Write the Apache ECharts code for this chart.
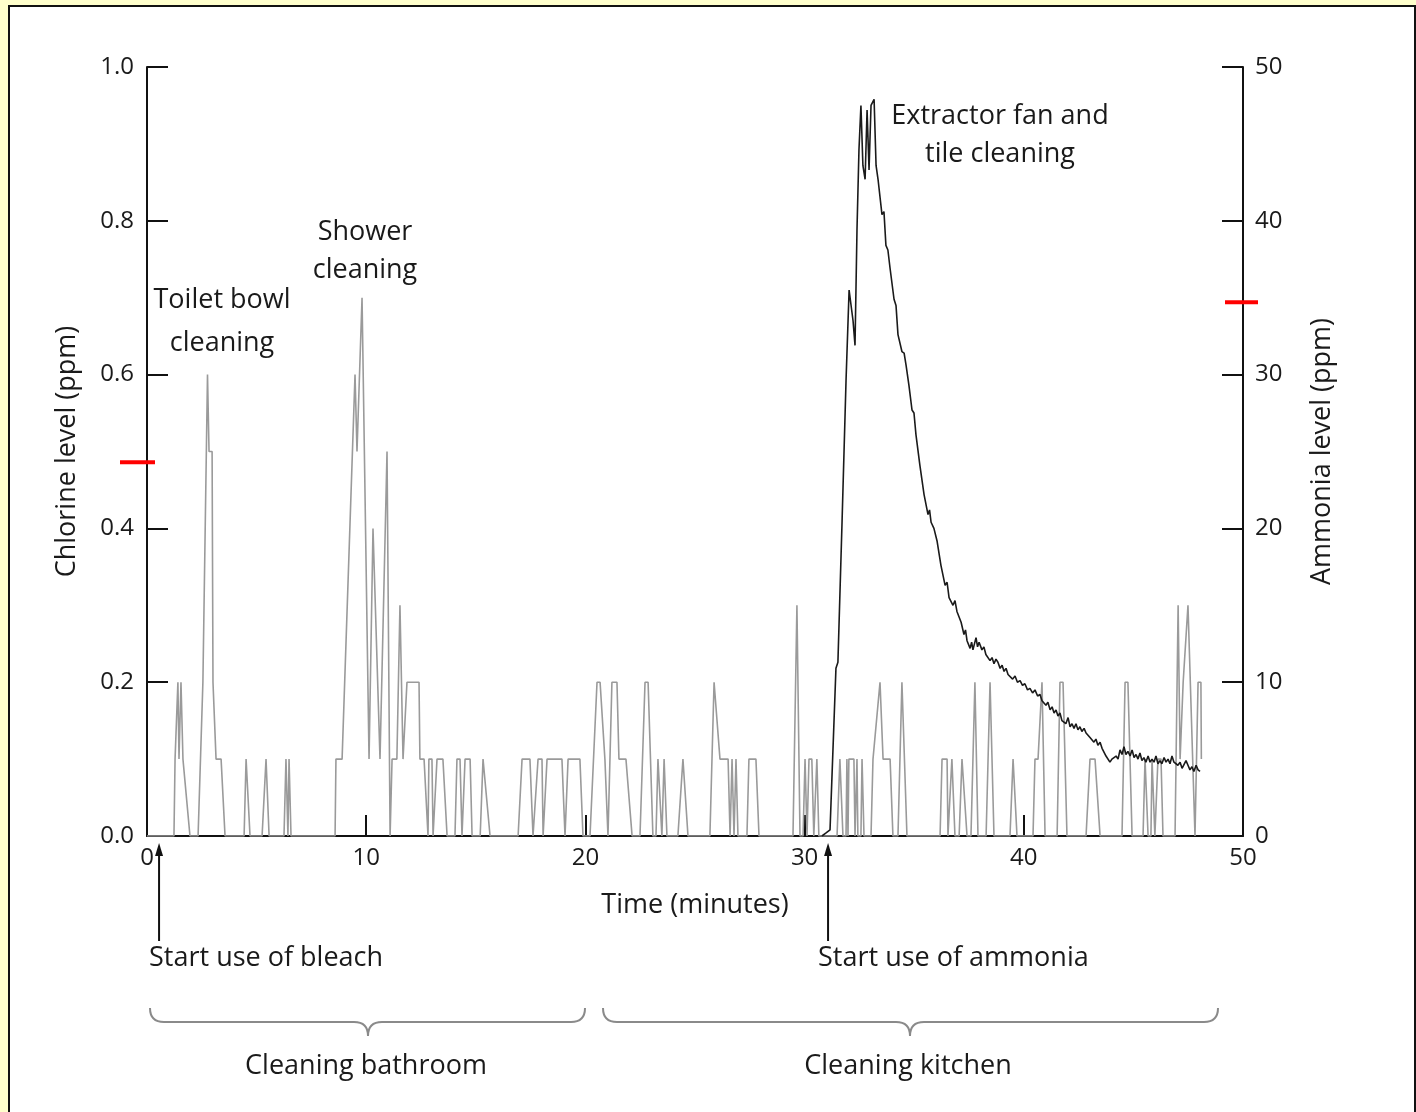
<!DOCTYPE html>
<html><head><meta charset="utf-8">
<script src="https://cdn.jsdelivr.net/npm/echarts@6/dist/echarts.min.js"></script>
<style>
html,body{margin:0;padding:0;background:#FFFFCC;width:1416px;height:1112px;overflow:hidden;}
#panel{position:absolute;left:8px;top:5px;width:1404px;height:1120px;background:#fff;border:2px solid #111;}
#chart{position:absolute;left:0;top:0;width:1416px;height:1112px;}
</style></head><body>
<div id="panel"></div><div id="chart"></div>
<script>
// ---- data (time in minutes, level in ppm) ----
const chlorine = [
[0,0],[1.23,0],[1.28,0.1],[1.41,0.2],[1.46,0.1],[1.55,0.2],[1.64,0.1],[1.96,0],
[2.33,0],[2.55,0.2],[2.76,0.6],[2.83,0.5],[2.97,0.5],[3.01,0.2],[3.15,0.1],[3.38,0.1],[3.56,0],
[4.43,0],[4.52,0.1],[4.70,0],
[5.25,0],[5.43,0.1],[5.57,0],
[6.25,0],[6.34,0.1],[6.43,0],[6.48,0.1],[6.57,0],
[8.58,0],[8.62,0.1],[8.90,0.1],[9.49,0.6],[9.58,0.5],[9.81,0.7],[10.13,0.1],[10.31,0.4],[10.63,0.1],[10.95,0.5],[11.09,0],[11.18,0.1],[11.40,0.1],[11.54,0.3],[11.63,0.3],[11.68,0.1],[11.86,0.2],[12.41,0.2],[12.45,0.1],[12.64,0.1],
[12.82,0],[12.86,0.1],[13.00,0.1],[13.05,0],[13.23,0.1],[13.50,0.1],[13.69,0],
[14.05,0],[14.14,0.1],[14.28,0.1],[14.37,0],[14.51,0.1],[14.74,0.1],[14.83,0],
[15.20,0],[15.33,0.1],[15.65,0],
[16.93,0],[17.11,0.1],[17.47,0.1],[17.61,0],[17.84,0.1],[18.02,0.1],[18.07,0],[18.25,0.1],[18.93,0.1],[19.07,0],[19.21,0.1],[19.75,0.1],[19.89,0],
[20.21,0],[20.53,0.2],[20.67,0.2],[20.89,0.1],[21.03,0],[21.21,0.2],[21.44,0.2],[21.53,0.1],[21.85,0.1],[22.13,0],
[22.49,0],[22.72,0.2],[22.86,0.2],[23.08,0],
[23.22,0],[23.31,0.1],[23.40,0.1],[23.49,0],[23.59,0.1],[23.72,0],
[24.22,0],[24.45,0.1],[24.68,0],
[25.68,0],[25.87,0.2],[26.14,0.1],[26.51,0.1],[26.60,0],[26.69,0.1],[26.78,0],[26.87,0.1],[26.96,0],
[27.37,0],[27.46,0.1],[27.78,0.1],[27.92,0],
[29.47,0],[29.65,0.3],[29.79,0],
[29.93,0],[30.02,0.1],[30.11,0],[30.20,0.1],[30.33,0.1],[30.42,0],[30.56,0.1],[30.65,0],
[31.48,0],[31.61,0.1],[31.75,0],[31.89,0],[31.93,0.1],[31.98,0],[32.02,0.1],[32.25,0.1],[32.30,0],[32.39,0.1],[32.43,0],
[32.57,0],[32.62,0.1],[32.71,0],
[33.03,0],[33.12,0.1],[33.44,0.2],[33.58,0.1],[33.90,0.1],[34.03,0],
[34.26,0],[34.44,0.2],[34.67,0],
[36.18,0],[36.27,0.1],[36.50,0.1],[36.54,0],[36.72,0.1],[36.86,0],[37.05,0],[37.18,0.1],[37.41,0],
[37.59,0],[37.77,0.2],[37.91,0],
[38.28,0],[38.46,0.2],[38.64,0],
[39.37,0],[39.51,0.1],[39.69,0],
[40.42,0],[40.51,0.1],[40.65,0.1],[40.83,0.2],[40.97,0],
[41.52,0],[41.65,0.2],[41.79,0.2],[41.97,0],
[42.84,0],[43.02,0.1],[43.25,0.1],[43.48,0],
[44.48,0],[44.62,0.2],[44.75,0.2],[44.94,0],
[45.44,0],[45.53,0.1],[45.67,0],[45.80,0],[45.85,0.1],[45.98,0],[46.07,0],[46.12,0.1],[46.26,0.1],[46.35,0],
[46.90,0],[47.04,0.3],[47.13,0.1],[47.27,0.2],[47.49,0.3],[47.81,0],[47.95,0.2],[48.08,0.2],[48.10,0.1]
];
const ammonia = [
[30.79,0],[30.98,0.2],[31.16,0.4],[31.43,10.9],[31.52,11.3],[31.71,20.5],[31.89,29.6],[32.03,35.5],[32.12,35.6],[32.21,33.5],[32.30,31.9],
[32.39,39.4],[32.48,44.6],[32.57,47.5],[32.66,43.6],[32.76,42.7],[32.85,47.2],[32.94,43.3],[33.03,47.5],[33.17,47.9],[33.26,43.6],[33.35,42.7],
[33.53,40.4],[33.62,40.6],[33.71,38.4],[33.80,38.1],[33.90,36.9],[34.08,34.9],[34.17,34.5],[34.26,32.6],[34.44,31.5],[34.54,31.4],[34.63,30.6],[34.76,29.3],[34.90,27.7],[34.99,27.5],[35.08,26.1],[35.26,24.1],
[35.45,22.2],[35.63,20.9],[35.70,21.2],[35.77,20.4],[35.90,20.0],[36.04,19.2],[36.22,17.6],[36.41,16.3],[36.50,16.5],[36.59,15.5],[36.77,15.0],[36.86,15.3],[36.95,14.6],[37.14,13.9],
[37.27,13.1],[37.34,13.4],[37.41,12.7],[37.55,12.2],[37.62,12.6],[37.68,12.1],[37.82,12.9],[37.89,12.3],[37.96,12.6],[38.09,12.1],[38.18,12.3],[38.27,11.8],[38.36,11.9],[38.46,11.4],[38.55,11.6],[38.64,11.2],[38.73,11.5],[38.82,11.3],
[38.92,10.9],[39.01,11.1],[39.10,10.7],[39.19,10.9],[39.28,10.5],[39.37,10.6],[39.49,10.2],[39.60,10.4],[39.71,10.0],[39.83,10.1],[39.94,9.8],[40.05,9.9],[40.17,9.5],[40.28,9.6],[40.40,9.3],[40.51,9.5],[40.63,9.1],[40.74,9.2],[40.83,8.8],[40.92,8.9],[41.01,8.5],[41.10,8.7],
[41.20,8.2],[41.29,8.4],[41.38,8.0],[41.47,8.2],[41.56,7.8],[41.65,8.0],[41.74,7.5],[41.83,7.6],[41.92,7.3],[42.02,7.7],[42.11,7.1],[42.20,7.3],[42.29,7.0],[42.38,7.3],[42.47,6.9],[42.56,7.1],[42.65,6.8],[42.75,7.0],[42.84,6.7],[42.93,6.8],[43.02,6.4],[43.11,6.5],
[43.20,6.1],[43.29,6.3],[43.38,5.9],[43.48,6.1],[43.57,5.7],[43.66,5.6],[43.75,5.2],[43.84,5.3],[43.93,4.8],[44.02,5.0],[44.11,4.9],[44.21,5.2],[44.30,5.0],[44.39,5.6],[44.48,5.3],[44.57,5.8],[44.66,5.3],[44.75,5.5],[44.85,5.2],[44.94,5.6],[45.03,5.1],[45.12,5.3],
[45.21,5.0],[45.30,5.4],[45.39,4.9],[45.48,5.1],[45.57,4.8],[45.67,5.2],[45.76,4.8],[45.85,5.0],[45.94,4.8],[46.03,5.2],[46.12,4.7],[46.21,4.9],[46.30,4.7],[46.40,5.1],[46.49,4.8],[46.58,5.0],[46.67,4.7],[46.76,5.2],[46.85,4.8],[46.93,4.9],[47.03,4.6],[47.13,4.8],
[47.22,4.4],[47.31,4.5],[47.40,4.9],[47.49,4.6],[47.58,4.3],[47.67,4.5],[47.76,4.2],[47.86,4.6],[47.95,4.3],[48.04,4.2]
];
const xTicks = [0, 10, 20, 30, 40, 50];
const chlorineTicks = [0.0, 0.2, 0.4, 0.6, 0.8, 1.0];
const ammoniaTicks = [0, 10, 20, 30, 40, 50];
const chlorineLimit = 0.486;   // red marker, left axis
const ammoniaLimit = 34.7;     // red marker, right axis
const events = [
  {t: 0.55, label: 'Start use of bleach'},
  {t: 31.07, label: 'Start use of ammonia'}
];
const notes = [
  {text: 'Toilet bowl\ncleaning', x: 222, y: 322, lh: 43},
  {text: 'Shower\ncleaning', x: 365, y: 251, lh: 38},
  {text: 'Extractor fan and\ntile cleaning', x: 1000, y: 135, lh: 38}
];
const phases = [
  {label: 'Cleaning bathroom', x1: 150, x2: 585, mid: 368},
  {label: 'Cleaning kitchen', x1: 603, x2: 1218, mid: 910}
];

const FONT = 'Open Sans';
const TXT = '#1a1a1a';
const chart = echarts.init(document.getElementById('chart'));
const axisCommon = {
  axisLine: {show: true, onZero: false, lineStyle: {color: '#111', width: 2}},
  axisTick: {show: true, inside: true, length: 21, lineStyle: {color: '#111', width: 2}},
  splitLine: {show: false},
  nameTextStyle: {fontFamily: FONT, fontSize: 27, color: TXT},
};
chart.setOption({
  backgroundColor: 'transparent',
  animation: false,
  grid: {left: 147, right: 173, top: 67, bottom: 276},
  xAxis: Object.assign({}, axisCommon, {
    type: 'value', min: xTicks[0], max: xTicks[xTicks.length - 1], interval: 10,
    name: 'Time (minutes)', nameLocation: 'middle', nameGap: 56,
    axisLabel: {margin: 10, fontFamily: FONT, fontSize: 24, color: TXT}
  }),
  yAxis: [
    Object.assign({}, axisCommon, {
      type: 'value', position: 'left', min: chlorineTicks[0], max: chlorineTicks[chlorineTicks.length - 1], interval: 0.2,
      name: 'Chlorine level (ppm)', nameLocation: 'middle', nameGap: 66, nameRotate: 90,
      axisLabel: {margin: 13, fontFamily: FONT, fontSize: 24, color: TXT, formatter: v => v.toFixed(1)}
    }),
    Object.assign({}, axisCommon, {
      type: 'value', position: 'right', min: ammoniaTicks[0], max: ammoniaTicks[ammoniaTicks.length - 1], interval: 10,
      name: 'Ammonia level (ppm)', nameLocation: 'middle', nameGap: 66, nameRotate: 90,
      axisLabel: {margin: 12, fontFamily: FONT, fontSize: 24, color: TXT}
    })
  ],
  series: [
    {type: 'line', name: 'Chlorine', yAxisIndex: 0, data: chlorine, symbol: 'none',
     lineStyle: {color: '#9a9a9a', width: 1.6}, z: 2},
    {type: 'line', name: 'Ammonia', yAxisIndex: 1, data: ammonia, symbol: 'none',
     lineStyle: {color: '#1a1a1a', width: 1.6}, z: 3}
  ]
});

const g = [];
// red limit markers
const cl = chart.convertToPixel({seriesIndex: 0}, [0, chlorineLimit]);
g.push({type: 'rect', shape: {x: cl[0] - 27, y: cl[1] - 2, width: 35, height: 4}, style: {fill: '#ff0000'}, z: 10});
const am = chart.convertToPixel({seriesIndex: 1}, [50, ammoniaLimit]);
g.push({type: 'rect', shape: {x: am[0] - 18, y: am[1] - 2, width: 33, height: 4}, style: {fill: '#ff0000'}, z: 10});
// arrows + labels
events.forEach(e => {
  const p = chart.convertToPixel({seriesIndex: 0}, [e.t, 0]);
  const tip = p[1] + 7;
  g.push({type: 'line', shape: {x1: p[0], y1: tip + 8, x2: p[0], y2: tip + 98}, style: {stroke: '#111', lineWidth: 2}});
  g.push({type: 'polygon', shape: {points: [[p[0], tip], [p[0] - 4, tip + 13], [p[0] + 4, tip + 13]]}, style: {fill: '#111'}});
  g.push({type: 'text', x: p[0] - 10, y: p[1] + 122, style: {text: e.label, fontFamily: FONT, fontSize: 27, fill: TXT, verticalAlign: 'middle', align: 'left'}});
});
// annotations
notes.forEach(n => {
  g.push({type: 'text', x: n.x, y: n.y, style: {text: n.text, fontFamily: FONT, fontSize: 27, lineHeight: n.lh, fill: TXT, align: 'center', verticalAlign: 'middle'}});
});
// braces
const BR = {stroke: '#8a8a8a', lineWidth: 2, fill: null};
phases.forEach(b => {
  const yT = 1008, yL = 1022, yB = 1036, r = 14;
  g.push({type: 'bezierCurve', shape: {x1: b.x1, y1: yT, x2: b.x1 + r, y2: yL, cpx1: b.x1, cpy1: yL}, style: BR});
  g.push({type: 'line', shape: {x1: b.x1 + r, y1: yL, x2: b.mid - r, y2: yL}, style: BR});
  g.push({type: 'bezierCurve', shape: {x1: b.mid - r, y1: yL, x2: b.mid, y2: yB, cpx1: b.mid, cpy1: yL}, style: BR});
  g.push({type: 'bezierCurve', shape: {x1: b.mid, y1: yB, x2: b.mid + r, y2: yL, cpx1: b.mid, cpy1: yL}, style: BR});
  g.push({type: 'line', shape: {x1: b.mid + r, y1: yL, x2: b.x2 - r, y2: yL}, style: BR});
  g.push({type: 'bezierCurve', shape: {x1: b.x2 - r, y1: yL, x2: b.x2, y2: yT, cpx1: b.x2, cpy1: yL}, style: BR});
  g.push({type: 'text', x: b.mid - 2, y: 1066, style: {text: b.label, fontFamily: FONT, fontSize: 27, fill: TXT, align: 'center', verticalAlign: 'middle'}});
});
chart.setOption({graphic: g});
</script>
</body></html>
